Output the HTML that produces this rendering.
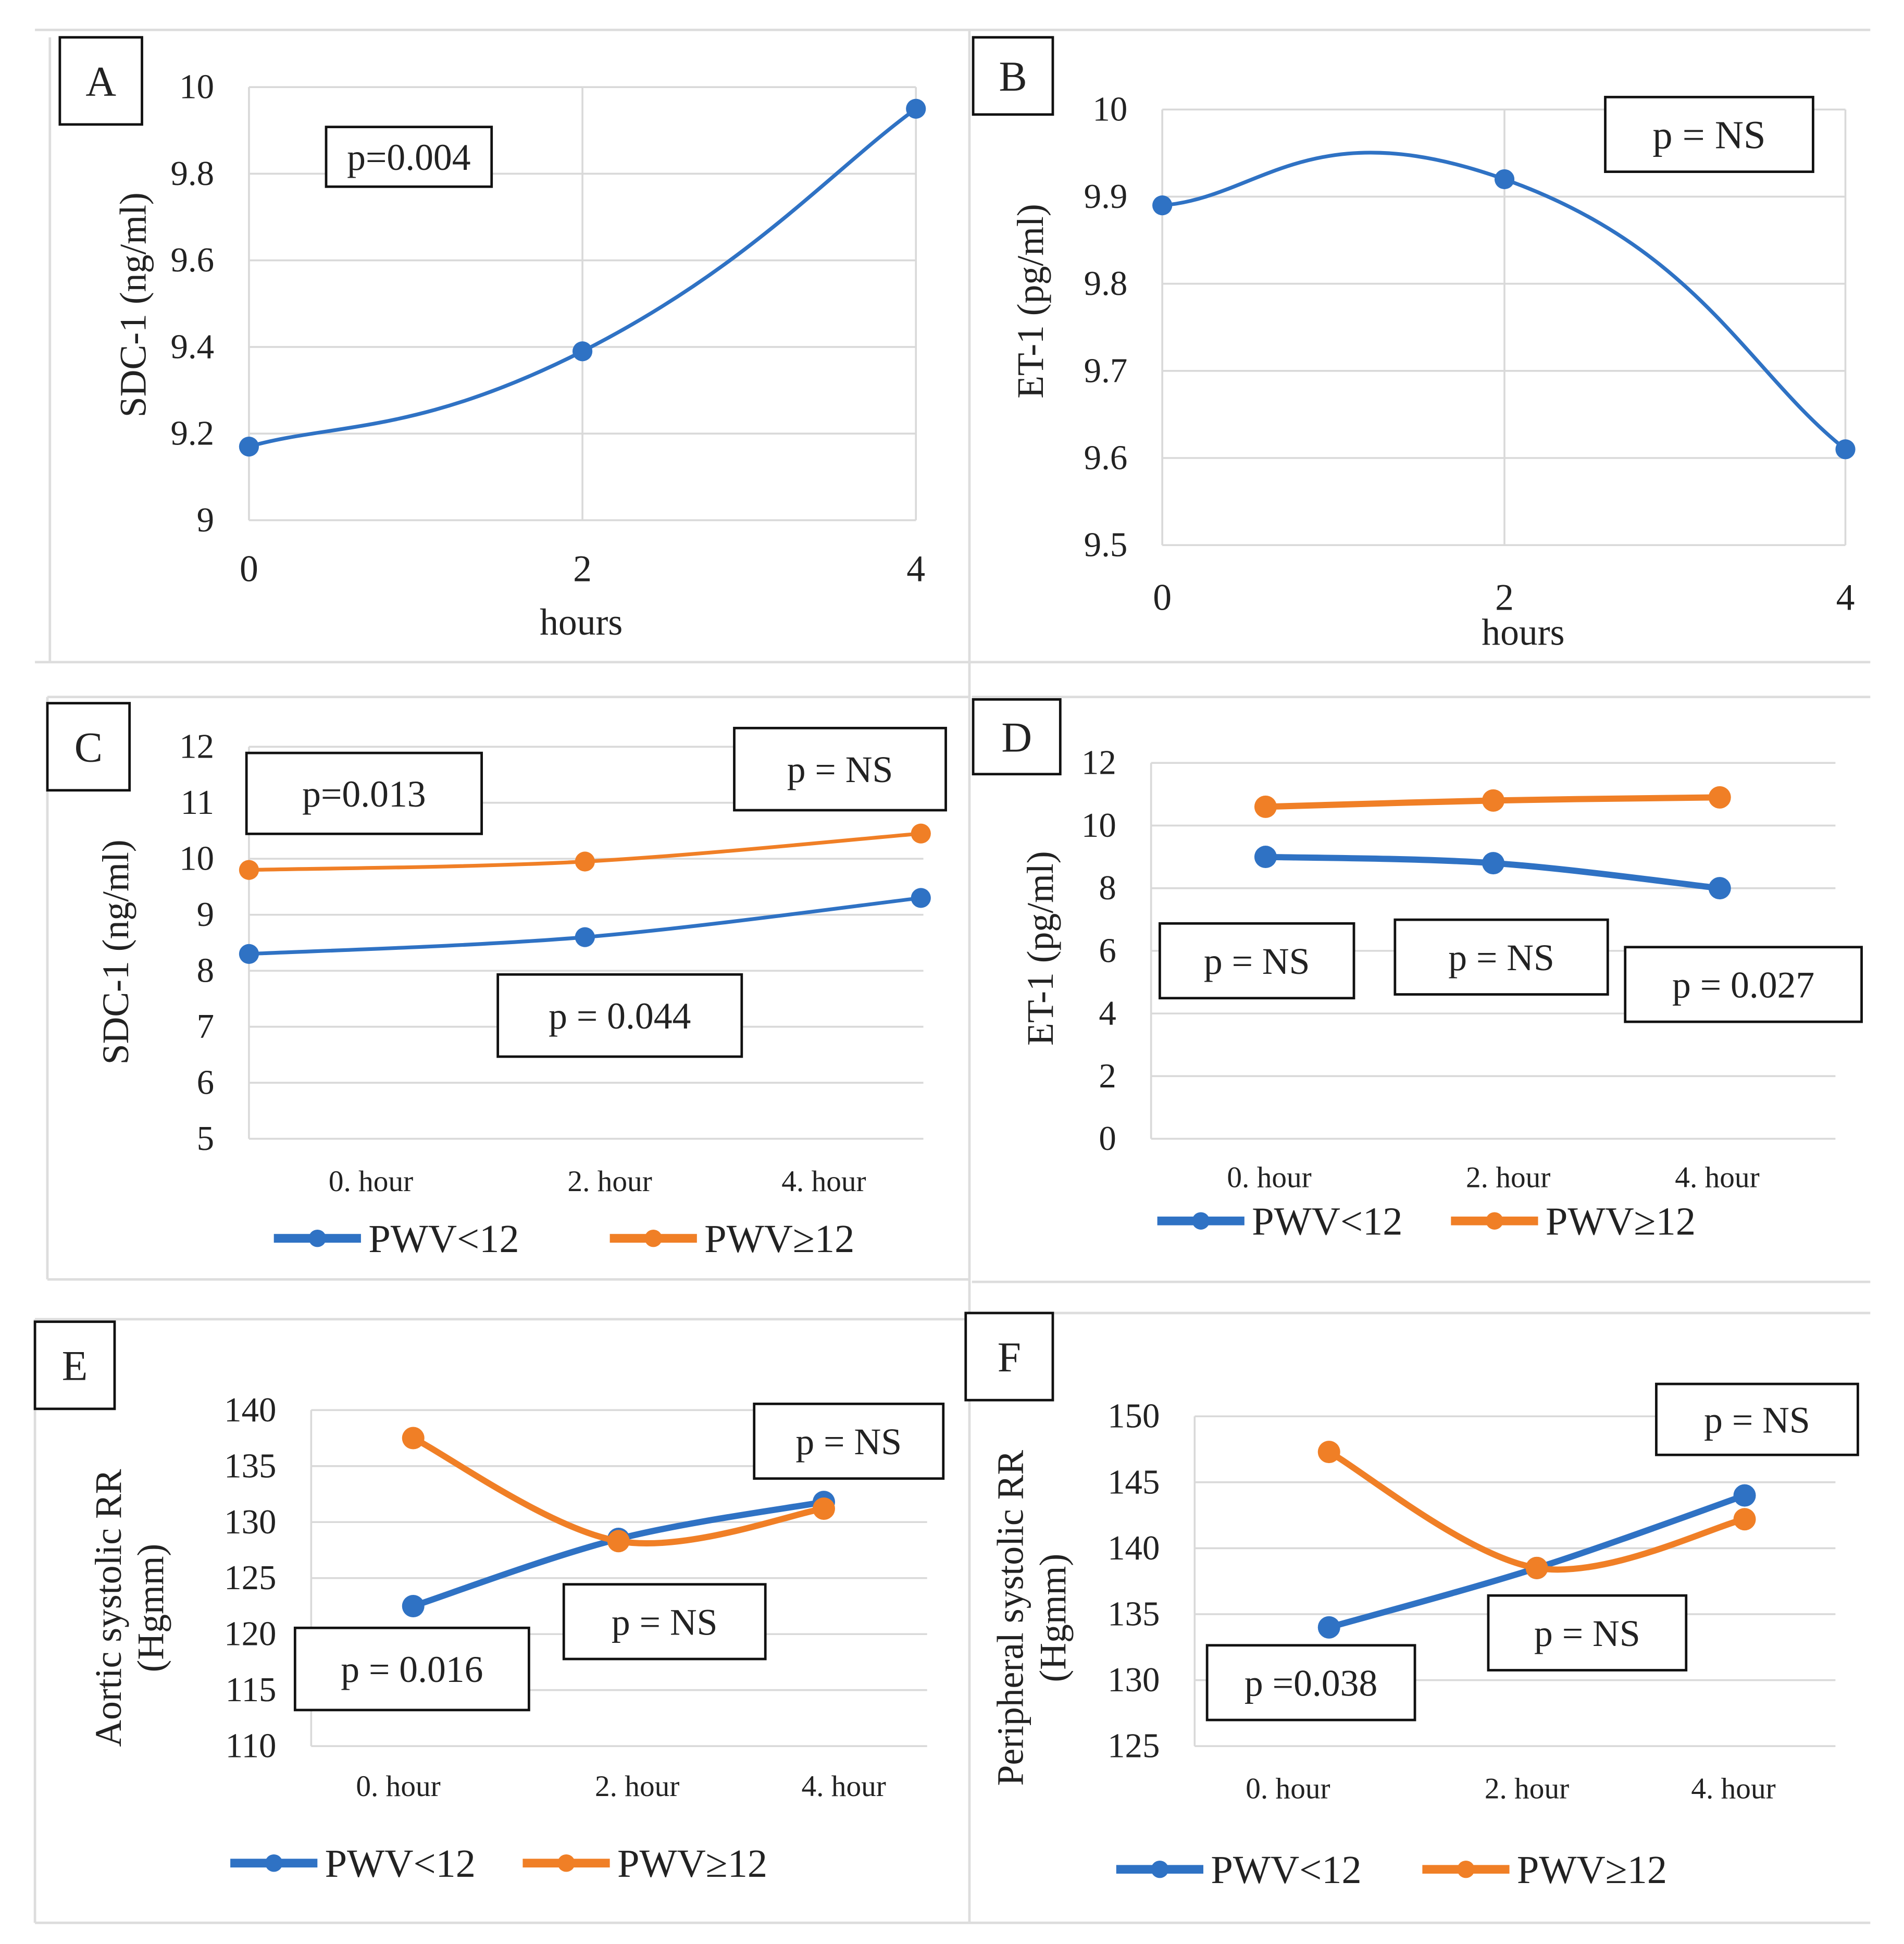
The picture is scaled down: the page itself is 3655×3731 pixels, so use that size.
<!DOCTYPE html>
<html><head><meta charset="utf-8"><style>
html,body{margin:0;padding:0;background:#fff}
svg{display:block}
text{font-family:"Liberation Serif",serif;fill:#222}
</style></head><body>
<svg id="fig" width="3655" height="3731" viewBox="0 0 1530 1562" xmlns="http://www.w3.org/2000/svg">
<g id="frames" fill="none" stroke="#ddd" stroke-width="2">
<line x1="28" y1="24" x2="1503" y2="24"/>
<line x1="779" y1="24" x2="779" y2="1545"/>
<line x1="28" y1="532" x2="779" y2="532"/>
<line x1="779" y1="532" x2="1503" y2="532"/>
<line x1="38" y1="560" x2="779" y2="560"/>
<line x1="781" y1="560" x2="1503" y2="560"/>
<line x1="38" y1="1028" x2="779" y2="1028"/>
<line x1="781" y1="1030" x2="1503" y2="1030"/>
<line x1="28" y1="1060" x2="779" y2="1060"/>
<line x1="779" y1="1055" x2="1503" y2="1055"/>
<line x1="28" y1="1545" x2="1503" y2="1545"/>
<line x1="38" y1="560" x2="38" y2="1028"/>
<line x1="28" y1="1060" x2="28" y2="1545"/>
<line x1="40" y1="30" x2="40" y2="532"/>
</g>
<g id="content"></g>
</svg>
<script>
// Panel A
const aX = ["0","2","4"];
const aVals = [9.17, 9.39, 9.95];
const aTicks = [9, 9.2, 9.4, 9.6, 9.8, 10];
// Panel B
const bX = ["0","2","4"];
const bVals = [9.89, 9.92, 9.61];
const bTicks = [9.5, 9.6, 9.7, 9.8, 9.9, 10];
// Panel C
const cX = ["0. hour","2. hour","4. hour"];
const cBlue = [8.3, 8.6, 9.3];
const cOrange = [9.8, 9.95, 10.45];
const cTicks = [5,6,7,8,9,10,11,12];
// Panel D
const dX = ["0. hour","2. hour","4. hour"];
const dBlue = [9.0, 8.8, 8.0];
const dOrange = [10.6, 10.8, 10.9];
const dTicks = [0,2,4,6,8,10,12];
// Panel E
const eX = ["0. hour","2. hour","4. hour"];
const eBlue = [122.5, 128.5, 131.8];
const eOrange = [137.5, 128.3, 131.2];
const eTicks = [110,115,120,125,130,135,140];
// Panel F
const fX = ["0. hour","2. hour","4. hour"];
const fBlue = [134, 138.5, 144];
const fOrange = [147.3, 138.5, 142.2];
const fTicks = [125,130,135,140,145,150];

const NS="http://www.w3.org/2000/svg";
const root=document.getElementById('content');
function el(tag,attrs,parent,txt){const e=document.createElementNS(NS,tag);for(const k in attrs)e.setAttribute(k,attrs[k]);if(txt!==undefined)e.textContent=txt;(parent||root).appendChild(e);return e;}
const BLUE="#2f72c4", ORANGE="#f07f26";

function smoothPath(pts,t){
  t=t||6;
  let d="M"+pts[0][0]+","+pts[0][1];
  for(let i=0;i<pts.length-1;i++){
    const p0=pts[i-1]||pts[i],p1=pts[i],p2=pts[i+1],p3=pts[i+2]||p2;
    const c1=[p1[0]+(p2[0]-p0[0])/t,p1[1]+(p2[1]-p0[1])/t];
    const c2=[p2[0]-(p3[0]-p1[0])/t,p2[1]-(p3[1]-p1[1])/t];
    d+=" C"+c1[0]+","+c1[1]+" "+c2[0]+","+c2[1]+" "+p2[0]+","+p2[1];
  }
  return d;
}

function panel(cfg){
  const g=el('g',{});
  
  
  const ymin=cfg.ticks[0],ymax=cfg.ticks[cfg.ticks.length-1];
  const ys=v=>cfg.y1-(v-ymin)/(ymax-ymin)*(cfg.y1-cfg.y0);
  const xs=i=>cfg.px[i];
  cfg.ticks.forEach(t=>{
    const gl=el('line',{x1:cfg.x0,x2:cfg.x1,y1:ys(t),y2:ys(t),stroke:'#d9d9d9','stroke-width':1.5},g);
    
    
    const tl=el('text',{x:cfg.x0-cfg.tickGap,y:ys(t)+9,'text-anchor':'end','font-size':cfg.tfs||28},g,String(t));
    
    
  });
  el('line',{x1:cfg.x0,x2:cfg.x0,y1:cfg.y0,y2:cfg.y1,stroke:'#d9d9d9','stroke-width':1.5},g);
  if(cfg.vgrid) cfg.px.forEach(x=>el('line',{x1:x,x2:x,y1:cfg.y0,y2:cfg.y1,stroke:'#d9d9d9','stroke-width':1.5},g));
  cfg.xl.forEach((l,i)=>{
    const t=el('text',{x:(cfg.xlx?cfg.xlx[i]:xs(i)),y:cfg.xly,'text-anchor':'middle','font-size':cfg.xfs},g,l);
    
    
  });
  cfg.series.forEach(s=>{
    const pts=s.vals.map((v,i)=>[xs(i),ys(v)]);
    const p=el('path',{d:smoothPath(pts,cfg.tension),fill:'none',stroke:s.color,'stroke-width':s.w},g);
    
    
    pts.forEach(pt=>{
      const c=el('circle',{cx:pt[0],cy:pt[1],r:s.r,fill:s.color},g);
      
      
    });
  });
  const yt=el('text',{transform:`translate(${cfg.ytx},${cfg.yty}) rotate(-90)`,'text-anchor':'middle','font-size':cfg.yfs||30},g);
  
  
  (Array.isArray(cfg.ytitle)?cfg.ytitle:[cfg.ytitle]).forEach((line,i)=>{el('tspan',{x:0,dy:i?34:0},yt,line);});
  return g;
}
function box(x,y,w,h,label,fs,name){
  const g=el('g',{});
  
  
  el('rect',{x:x,y:y,width:w,height:h,fill:'#fff',stroke:'#111','stroke-width':2},g);
  el('text',{x:x+w/2,y:y+h/2+fs*0.35,'text-anchor':'middle','font-size':fs},g,label);
}
function legend(x,y,name,labels){
  const g=el('g',{});
  
  
  labels.forEach(l=>{
    el('line',{x1:l.x,x2:l.x+70,y1:y,y2:y,stroke:l.c,'stroke-width':7},g);
    el('circle',{cx:l.x+35,cy:y,r:7,fill:l.c},g);
    el('text',{x:l.x+76,y:y+11,'font-size':32},g,l.t);
  });
}

// A
panel({name:'panel-a-chart',x0:200,x1:736,y0:70,y1:418,ticks:aTicks,px:[200,468,736],vgrid:true,tickGap:28,tfs:28,tension:4,
  xl:aX,xly:467,xfs:30,series:[{name:'sdc1',vals:aVals,color:BLUE,w:3,r:8}],ytitle:'SDC-1 (ng/ml)',ytx:117,yty:245});
el('text',{x:467,y:510,'text-anchor':'middle','font-size':30},root,'hours');
box(48,30,66,70,'A',34,'panel-a-label');
box(262,102,133,48,'p=0.004',30,'panel-a-pvalue');
// B
panel({name:'panel-b-chart',x0:934,x1:1483,y0:88,y1:438,ticks:bTicks,px:[934,1209,1483],vgrid:true,tickGap:28,tfs:28,tension:3.5,
  xl:bX,xly:490,xfs:30,series:[{name:'et1',vals:bVals,color:BLUE,w:3,r:8}],ytitle:'ET-1 (pg/ml)',ytx:838,yty:242});
el('text',{x:1224,y:518,'text-anchor':'middle','font-size':30},root,'hours');
box(782,30,64,62,'B',34,'panel-b-label');
box(1290,78,167,60,'p = NS',32,'panel-b-pvalue');
// C
panel({name:'panel-c-chart',x0:200,x1:742,y0:600,y1:915,ticks:cTicks,px:[200,470,740],tickGap:28,tfs:28,
  xl:cX,xlx:[298,490,662],xly:957,xfs:24,series:[{name:'pwv-low',vals:cBlue,color:BLUE,w:3,r:8},{name:'pwv-high',vals:cOrange,color:ORANGE,w:3,r:8}],
  ytitle:'SDC-1 (ng/ml)',ytx:103,yty:765});
box(38,565,66,70,'C',34,'panel-c-label');
box(198,605,189,65,'p=0.013',30,'panel-c-pvalue-top');
box(590,585,170,66,'p = NS',30,'panel-c-pvalue-ns');
box(400,783,196,66,'p = 0.044',30,'panel-c-pvalue-bottom');
legend(0,995,'panel-c-legend',[{x:220,c:BLUE,t:'PWV<12'},{x:490,c:ORANGE,t:'PWV≥12'}]);
// D
panel({name:'panel-d-chart',x0:925,x1:1475,y0:613,y1:915,ticks:dTicks,px:[1017,1200,1382],tickGap:28,tfs:28,
  xl:dX,xlx:[1020,1212,1380],xly:954,xfs:24,series:[{name:'pwv-low',vals:dBlue,color:BLUE,w:5,r:9},{name:'pwv-high',vals:dOrange,color:ORANGE,w:5,r:9}],
  ytitle:'ET-1 (pg/ml)',ytx:846,yty:762});
box(782,562,70,60,'D',34,'panel-d-label');
box(932,742,156,60,'p = NS',30,'panel-d-pvalue-1');
box(1121,739,171,60,'p = NS',30,'panel-d-pvalue-2');
box(1306,761,190,60,'p = 0.027',30,'panel-d-pvalue-3');
legend(0,981,'panel-d-legend',[{x:930,c:BLUE,t:'PWV<12'},{x:1166,c:ORANGE,t:'PWV≥12'}]);
// E
panel({name:'panel-e-chart',x0:250,x1:745,y0:1133,y1:1403,ticks:eTicks,px:[332,497,662],tickGap:28,tfs:28,
  xl:eX,xlx:[320,512,678],xly:1443,xfs:24,series:[{name:'pwv-low',vals:eBlue,color:BLUE,w:5,r:9},{name:'pwv-high',vals:eOrange,color:ORANGE,w:5,r:9}],
  ytitle:['Aortic systolic RR','(Hgmm)'],ytx:97,yty:1292});
box(28,1062,64,70,'E',34,'panel-e-label');
box(606,1128,152,60,'p = NS',30,'panel-e-pvalue-ns');
box(453,1273,162,60,'p = NS',30,'panel-e-pvalue-mid');
box(237,1308,188,66,'p = 0.016',30,'panel-e-pvalue-low');
legend(0,1497,'panel-e-legend',[{x:185,c:BLUE,t:'PWV<12'},{x:420,c:ORANGE,t:'PWV≥12'}]);
// F
panel({name:'panel-f-chart',x0:960,x1:1475,y0:1138,y1:1403,ticks:fTicks,px:[1068,1235,1402],tickGap:28,tfs:28,
  xl:fX,xlx:[1035,1227,1393],xly:1445,xfs:24,series:[{name:'pwv-low',vals:fBlue,color:BLUE,w:5,r:9},{name:'pwv-high',vals:fOrange,color:ORANGE,w:5,r:9}],
  ytitle:['Peripheral systolic RR','(Hgmm)'],ytx:822,yty:1300});
box(776,1055,70,70,'F',34,'panel-f-label');
box(1331,1112,162,57,'p = NS',30,'panel-f-pvalue-ns');
box(1196,1282,159,60,'p = NS',30,'panel-f-pvalue-mid');
box(970,1322,167,60,'p =0.038',30,'panel-f-pvalue-low');
legend(0,1502,'panel-f-legend',[{x:897,c:BLUE,t:'PWV<12'},{x:1143,c:ORANGE,t:'PWV≥12'}]);
</script>
</body></html>
